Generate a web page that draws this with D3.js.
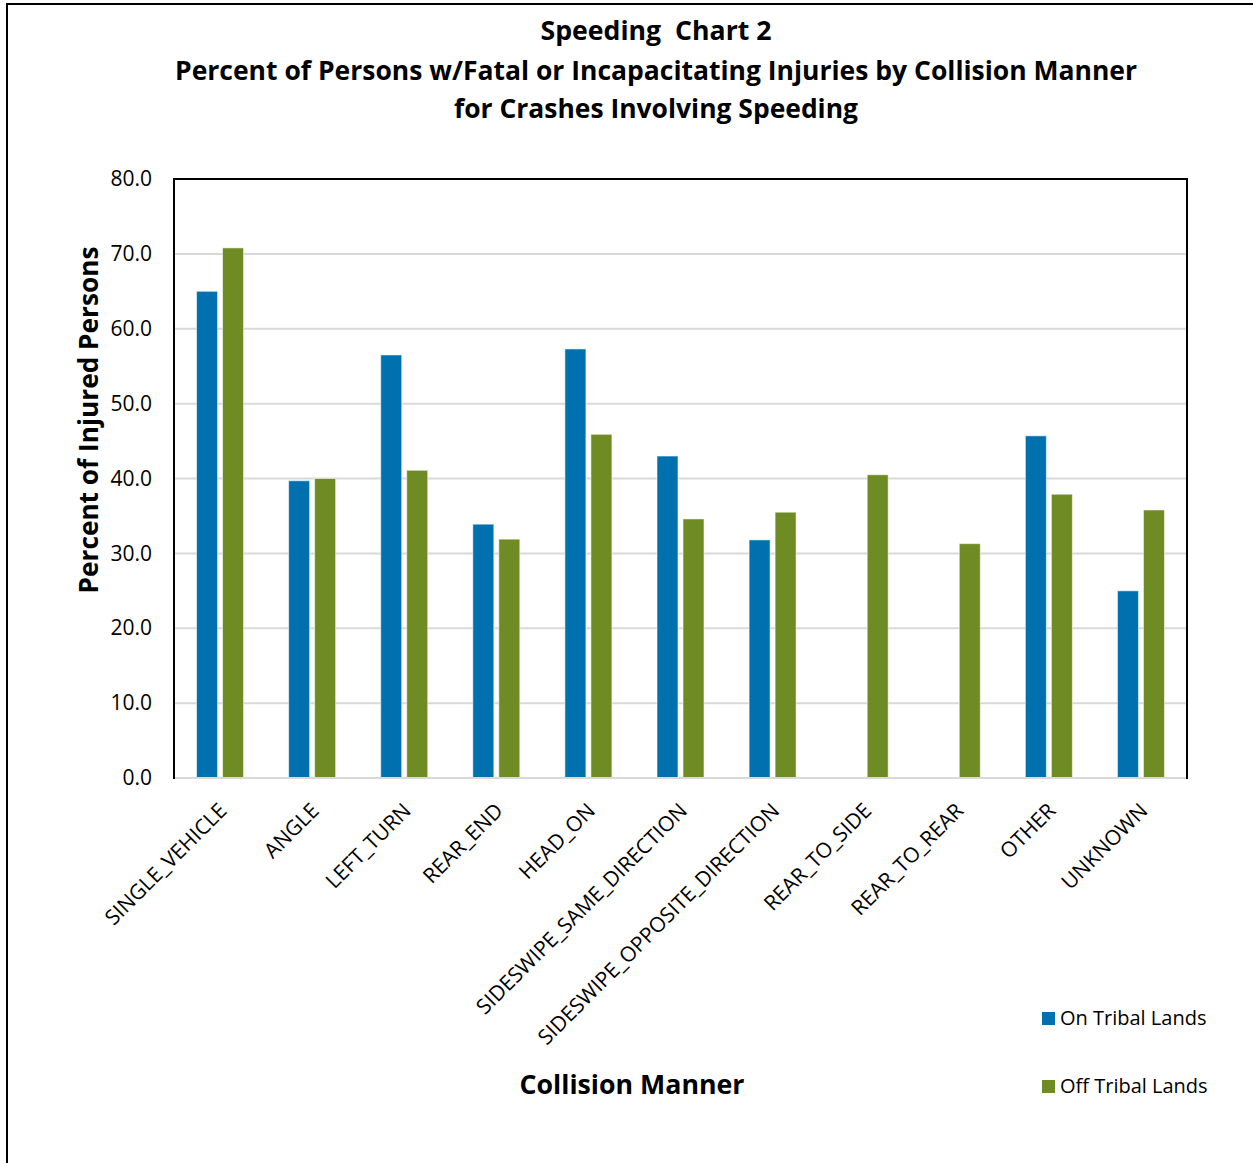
<!DOCTYPE html>
<html>
<head>
<meta charset="utf-8">
<script src="https://cdn.jsdelivr.net/npm/d3@7"></script>
<style>
  body { margin: 0; background: #fff; }
  text { font-family: "Open Sans", sans-serif; fill: #000; white-space: pre; }
</style>
</head>
<body>
<div id="chart"></div>
<script>
// chart values
const categories = ['SINGLE_VEHICLE', 'ANGLE', 'LEFT_TURN', 'REAR_END', 'HEAD_ON',
  'SIDESWIPE_SAME_DIRECTION', 'SIDESWIPE_OPPOSITE_DIRECTION', 'REAR_TO_SIDE',
  'REAR_TO_REAR', 'OTHER', 'UNKNOWN'];
const onTribal = [65.0, 39.7, 56.5, 33.9, 57.3, 43.0, 31.8, 0, 0, 45.7, 25.0];
const offTribal = [70.8, 40.0, 41.1, 31.9, 45.9, 34.6, 35.5, 40.5, 31.3, 37.9, 35.8];
const seriesNames = ['On Tribal Lands', 'Off Tribal Lands'];
const yTicks = [0, 10, 20, 30, 40, 50, 60, 70, 80];
const titleLines = ['Speeding  Chart 2',
  'Percent of Persons w/Fatal or Incapacitating Injuries by Collision Manner',
  'for Crashes Involving Speeding'];

const width = 1253, height = 1163;
const margin = { top: 179, right: 66, bottom: 385, left: 174 };
const innerW = width - margin.left - margin.right;
const innerH = height - margin.top - margin.bottom;
const colors = ['#0070AE', '#6E8B24'];

const svg = d3.select('#chart').append('svg')
  .attr('width', width)
  .attr('height', height);

// outer chart frame (runs off the right and bottom edges)
svg.append('rect')
  .attr('x', 7).attr('y', 4)
  .attr('width', 1270).attr('height', 1180)
  .attr('fill', 'none')
  .attr('stroke', '#000')
  .attr('stroke-width', 2);

// titles, squeezed to the narrow Calibri-like widths
const titleWidths = [231, 962, 404];
const titleY = [40, 80, 118];
titleLines.forEach((t, i) => {
  svg.append('text')
    .attr('x', 656)
    .attr('y', titleY[i])
    .attr('text-anchor', 'middle')
    .attr('textLength', titleWidths[i])
    .attr('lengthAdjust', 'spacingAndGlyphs')
    .style('font-size', '27px')
    .style('font-weight', 'bold')
    .text(t);
});

const plot = svg.append('g')
  .attr('transform', `translate(${margin.left},${margin.top})`);

const x0 = d3.scaleBand().domain(categories).range([0, innerW]).padding(0);
const yScale = d3.scaleLinear().domain([0, 80]).range([innerH, 0]);

// gridlines
plot.append('g')
  .selectAll('line')
  .data(yTicks.filter(d => d > 0 && d < 80))
  .enter().append('line')
    .attr('x1', 0).attr('x2', innerW)
    .attr('y1', d => yScale(d)).attr('y2', d => yScale(d))
    .attr('stroke', '#D9D9D9')
    .attr('stroke-width', 2);

// bars
const barW = 21, gap = 5;
const series = [onTribal, offTribal];
series.forEach((vals, s) => {
  plot.append('g')
    .selectAll('rect')
    .data(vals.map((v, i) => ({ cat: categories[i], v: v })).filter(d => d.v > 0))
    .enter().append('rect')
      .attr('x', d => x0(d.cat) + x0.bandwidth() / 2 - barW - gap / 2 + s * (barW + gap))
      .attr('y', d => yScale(d.v))
      .attr('width', barW)
      .attr('height', d => innerH - yScale(d.v))
      .attr('fill', colors[s])
      .attr('stroke', 'rgba(255,255,255,0.55)')
      .attr('stroke-width', 1);
});

// bottom axis line (grey)
plot.append('line')
  .attr('x1', 0).attr('x2', innerW)
  .attr('y1', innerH).attr('y2', innerH)
  .attr('stroke', '#D9D9D9')
  .attr('stroke-width', 2);

// plot border: left, top, right in black
plot.append('path')
  .attr('d', `M0,${innerH + 1}V0H${innerW}V${innerH + 1}`)
  .attr('fill', 'none')
  .attr('stroke', '#000')
  .attr('stroke-width', 2);

// y axis labels
const yAxis = d3.axisLeft(yScale)
  .tickValues(yTicks)
  .tickFormat(d3.format('.1f'))
  .tickSize(0)
  .tickPadding(22);

const yG = plot.append('g').call(yAxis);
yG.select('.domain').remove();
yG.selectAll('text')
  .style('font-size', '21px')
  .style('font-family', '"Open Sans", sans-serif')
  .attr('fill', '#000');

// x axis labels, rotated
plot.append('g')
  .selectAll('text')
  .data(categories)
  .enter().append('text')
    .attr('transform', d => `translate(${x0(d) + x0.bandwidth() / 2 + 8},${innerH + 34}) rotate(-45)`)
    .attr('text-anchor', 'end')
    .style('font-size', '21px')
    .text(d => d);

// axis titles
svg.append('text')
  .attr('transform', 'translate(98,420) rotate(-90)')
  .attr('text-anchor', 'middle')
  .attr('textLength', 347)
  .attr('lengthAdjust', 'spacingAndGlyphs')
  .style('font-size', '26px')
  .style('font-weight', 'bold')
  .text('Percent of Injured Persons');

svg.append('text')
  .attr('x', 632)
  .attr('y', 1094)
  .attr('text-anchor', 'middle')
  .attr('textLength', 225)
  .attr('lengthAdjust', 'spacingAndGlyphs')
  .style('font-size', '27px')
  .style('font-weight', 'bold')
  .text('Collision Manner');

// legend
const legend = svg.append('g');
seriesNames.forEach((name, i) => {
  const ly = 1012 + i * 68;
  legend.append('rect')
    .attr('x', 1042).attr('y', ly)
    .attr('width', 13).attr('height', 13)
    .attr('fill', colors[i]);
  legend.append('text')
    .attr('x', 1060).attr('y', ly + 13)
    .style('font-size', '20px')
    .text(name);
});
</script>
</body>
</html>
